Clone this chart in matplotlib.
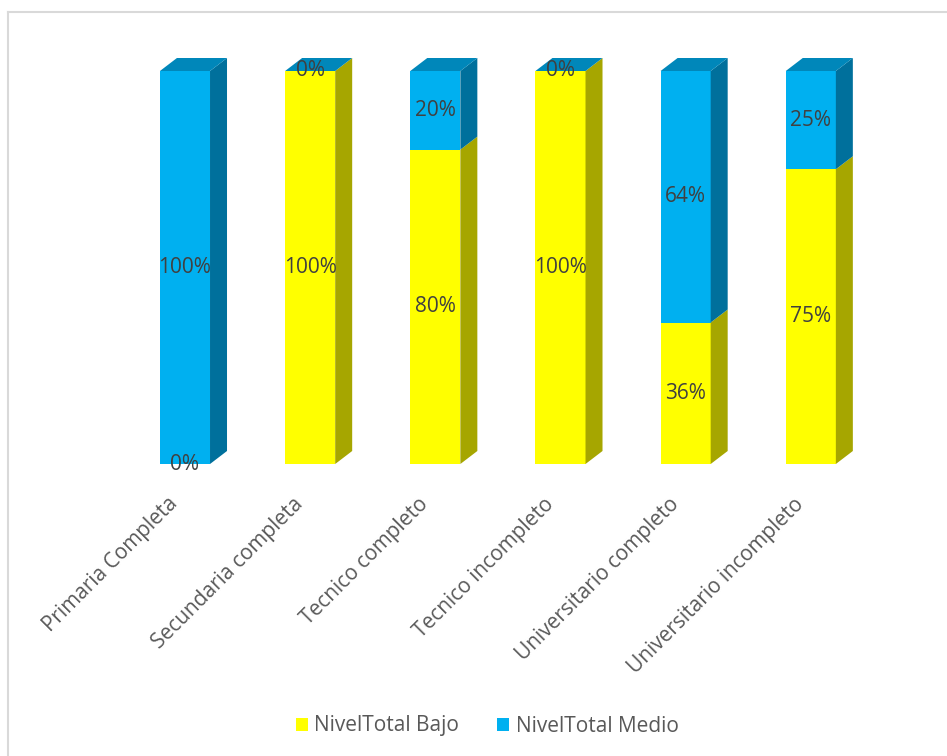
import matplotlib.pyplot as plt
import matplotlib.transforms as mtransforms
from matplotlib.patches import Polygon, Patch
from matplotlib.lines import Line2D

plt.rcParams['font.family'] = ['Open Sans', 'DejaVu Sans']

# Datos
categorias = ["Primaria Completa", "Secundaria completa", "Tecnico completo",
              "Tecnico incompleto", "Universitario completo", "Universitario incompleto"]
bajo = [0, 100, 80, 100, 36, 75]
medio = [100, 0, 20, 0, 64, 25]

# Colores (frente, lado, tapa)
amarillo = "#FFFF00"
amarillo_lado = "#A6A600"
azul = "#00B0F0"
azul_lado = "#00709C"
azul_tapa = "#0087BA"

W, H = 947, 756
fig = plt.figure(figsize=(W / 100, H / 100), dpi=100)
ax = fig.add_axes([122.4 / W, (H - 464) / H, 751 / W, 393 / H])
ax.set_xlim(-0.5, 5.5)
ax.set_ylim(0, 100)
ax.axis("off")

ancho = 0.4
dx = 17 / 125.2
dy = 13 / 393 * 100

x = list(range(len(categorias)))
ax.bar(x, bajo, width=ancho, color=amarillo, linewidth=0)
ax.bar(x, medio, width=ancho, bottom=bajo, color=azul, linewidth=0)

for i in x:
    xr = i + ancho / 2
    xl = i - ancho / 2
    tramos = [(0, bajo[i], amarillo_lado), (bajo[i], bajo[i] + medio[i], azul_lado)]
    for y0, y1, c in tramos:
        if y1 > y0:
            ax.add_patch(Polygon([(xr, y0), (xr + dx, y0 + dy), (xr + dx, y1 + dy), (xr, y1)],
                                 closed=True, facecolor=c, edgecolor="none", clip_on=False))
    top = bajo[i] + medio[i]
    ax.add_patch(Polygon([(xl, top), (xl + dx, top + dy), (xr + dx, top + dy), (xr, top)],
                         closed=True, facecolor=azul_tapa, edgecolor="none", clip_on=False))

# Etiquetas de datos
fs = 15
for i in x:
    if i != 0:
        ax.text(i, bajo[i] / 2, f"{bajo[i]}%", ha="center", va="center",
                fontsize=fs, color="#404040", clip_on=False, zorder=5)
    ax.text(i, bajo[i] + medio[i] / 2, f"{medio[i]}%", ha="center", va="center",
            fontsize=fs, color="#404040", clip_on=False, zorder=5)
ax.text(0, 0, "0%", ha="center", va="center", fontsize=fs, color="#404040",
        clip_on=False, zorder=5)

# Etiquetas del eje x
off = mtransforms.ScaledTranslation(-10 / 100, -37 / 100, fig.dpi_scale_trans)
for i, cat in enumerate(categorias):
    ax.text(i, 0, cat, rotation=45, ha="right", va="center", rotation_mode="anchor",
            fontsize=fs, color="#595959", transform=ax.transData + off, clip_on=False)

# Leyenda
handles = [Patch(facecolor=amarillo, label="NivelTotal Bajo"),
           Patch(facecolor=azul, label="NivelTotal Medio")]
fig.legend(handles=handles, loc="center", bbox_to_anchor=(487 / W, 1 - 726 / H), ncol=2,
           frameon=False, fontsize=fs, labelcolor="#595959", handlelength=0.6,
           handleheight=0.6, handletextpad=0.3, columnspacing=1.8)

# Borde
fig.add_artist(Line2D([8 / W, 1], [1 - 12 / H, 1 - 12 / H], color="#D9D9D9", lw=1.5))
fig.add_artist(Line2D([8 / W, 8 / W], [0, 1 - 12 / H], color="#D9D9D9", lw=1.5))

fig.savefig("out.png", dpi=100)
